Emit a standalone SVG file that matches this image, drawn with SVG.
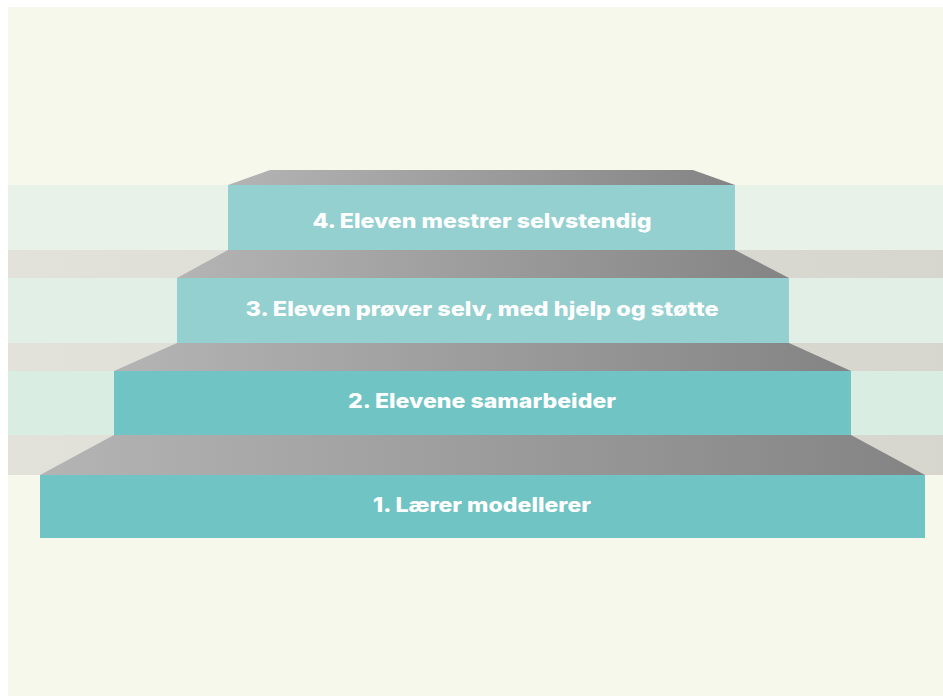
<svg xmlns="http://www.w3.org/2000/svg" width="943" height="696" viewBox="0 0 943 696">
  <defs>
    <linearGradient id="tread" x1="0" y1="0" x2="1" y2="0">
      <stop offset="0" stop-color="#b4b4b4"/>
      <stop offset="1" stop-color="#848484"/>
    </linearGradient>
    <linearGradient id="ledge" x1="0" y1="0" x2="1" y2="0">
      <stop offset="0" stop-color="#e2e2db"/>
      <stop offset="1" stop-color="#d6d6ce"/>
    </linearGradient>
    <style>
      .face-light { fill: #94d0d0; }
      .face-dark { fill: #70c4c3; }
      .tread { fill: url(#tread); }
      .ledge { fill: url(#ledge); }
      .label { font-family: "Inter", "Open Sans", "Liberation Sans", sans-serif; font-weight: 800; font-size: 20px; fill: #ffffff; text-anchor: middle; }
    </style>
  </defs>

  <!-- page -->
  <rect x="0" y="0" width="943" height="696" fill="#ffffff"/>
  <rect x="8" y="7" width="935" height="689" fill="#f6f8ec"/>

  <!-- horizontal bands behind the stairs -->
  <g id="bands">
    <rect x="8" y="185" width="935" height="65" fill="#e8f2e9"/>
    <rect class="ledge" x="8" y="250" width="935" height="28"/>
    <rect x="8" y="278" width="935" height="65" fill="#e2efe6"/>
    <rect class="ledge" x="8" y="343" width="935" height="28"/>
    <rect x="8" y="371" width="935" height="64" fill="#daede3"/>
    <rect class="ledge" x="8" y="435" width="935" height="40"/>
  </g>

  <!-- step 1 (bottom) -->
  <g id="step1">
    <polygon class="tread" points="114,435 851,435 925,475 40,475"/>
    <rect class="face-dark" x="40" y="475" width="885" height="63"/>
    <text class="label" x="482" y="512" textLength="218" lengthAdjust="spacingAndGlyphs">1. Lærer modellerer</text>
  </g>

  <!-- step 2 -->
  <g id="step2">
    <polygon class="tread" points="177,343 789,343 851,371 114,371"/>
    <rect class="face-dark" x="114" y="371" width="737" height="64"/>
    <text class="label" x="482" y="408" textLength="268" lengthAdjust="spacingAndGlyphs">2. Elevene samarbeider</text>
  </g>

  <!-- step 3 -->
  <g id="step3">
    <polygon class="tread" points="228,250 735,250 789,278 177,278"/>
    <rect class="face-light" x="177" y="278" width="612" height="65"/>
    <text class="label" x="482" y="316" textLength="473" lengthAdjust="spacingAndGlyphs">3. Eleven prøver selv, med hjelp og støtte</text>
  </g>

  <!-- step 4 (top) -->
  <g id="step4">
    <polygon class="tread" points="270,170 693,170 735,185 228,185"/>
    <rect class="face-light" x="228" y="185" width="507" height="65"/>
    <text class="label" x="482" y="228" textLength="339" lengthAdjust="spacingAndGlyphs">4. Eleven mestrer selvstendig</text>
  </g>
</svg>
